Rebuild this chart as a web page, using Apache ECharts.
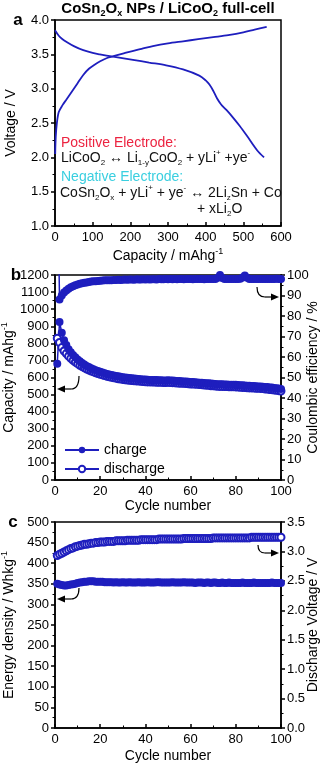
<!DOCTYPE html>
<html>
<head>
<meta charset="utf-8">
<script src="https://cdn.jsdelivr.net/npm/echarts@6/dist/echarts.min.js"></script>
<style>
  html,body{margin:0;padding:0;background:#fff;}
  #chart{width:328px;height:768px;}
</style>
</head>
<body>
<div id="chart"></div>
<script>
// panel a: voltage profile [capacity, voltage]
const chargeCurve = [
  [0.5, 2.05], [2, 2.3], [5, 2.5], [10, 2.66], [20, 2.76], [30, 2.84], [40, 2.92], [50, 3.0],
  [60, 3.08], [75, 3.2], [90, 3.29], [105, 3.35], [120, 3.4], [140, 3.45], [160, 3.48],
  [180, 3.51], [200, 3.54], [230, 3.58], [260, 3.62], [300, 3.66], [340, 3.69], [380, 3.72],
  [420, 3.75], [460, 3.78], [500, 3.82], [530, 3.86], [562, 3.9]
]
const dischargeCurve = [
  [0, 3.85], [10, 3.77], [20, 3.72], [31, 3.68], [50, 3.62], [75, 3.56], [100, 3.52],
  [119, 3.5], [150, 3.47], [207, 3.42], [250, 3.38], [295, 3.34], [340, 3.28], [383, 3.19],
  [400, 3.12], [410, 3.06], [420, 2.97], [430, 2.86], [441, 2.77], [455, 2.69], [471, 2.59],
  [490, 2.46], [510, 2.31], [537, 2.1], [555, 2.0]
]

// panel b: cycling, cycles 1..100
const chargeCap = [
  680, 925, 862, 818, 790, 766, 748, 732, 718, 706,
  695, 685, 676, 668, 661, 654, 648, 643, 638, 633,
  629, 625, 621, 618, 615, 612, 609, 607, 604, 602,
  600, 598, 597, 595, 594, 593, 591, 590, 589, 588,
  587, 586, 586, 585, 585, 584, 584, 583, 583, 584,
  583, 582, 581, 580, 579, 578, 577, 576, 575, 574,
  573, 572, 571, 570, 569, 568, 567, 566, 565, 563,
  562, 561, 560, 560, 559, 559, 558, 558, 557, 557,
  556, 555, 554, 553, 552, 551, 550, 550, 549, 548,
  547, 546, 545, 544, 542, 541, 539, 537, 535, 533
]
const dischargeCap = [
  830, 805, 775, 755, 740, 725, 712, 700, 690, 681,
  672, 664, 657, 650, 644, 638, 633, 628, 623, 619,
  615, 611, 607, 604, 601, 598, 596, 593, 591, 589,
  587, 585, 584, 582, 581, 580, 579, 578, 576, 575,
  574, 574, 573, 573, 572, 572, 572, 571, 571, 572,
  571, 570, 569, 568, 567, 566, 566, 565, 563, 562,
  562, 561, 560, 559, 558, 556, 555, 554, 552, 551,
  550, 549, 548, 548, 547, 547, 546, 546, 546, 545,
  544, 543, 542, 541, 540, 539, 539, 538, 537, 537,
  536, 535, 533, 532, 530, 529, 527, 525, 523, 521
]
const coulombic = [
  160, 88, 90, 91.5, 92.5, 93.3, 94, 94.5, 95, 95.4,
  95.7, 96, 96.2, 96.4, 96.6, 96.8, 96.9, 97, 97.1, 97.2,
  97.3, 97.4, 97.4, 97.5, 97.5, 97.6, 97.6, 97.7, 97.6, 97.7,
  97.8, 97.7, 97.8, 97.8, 97.7, 97.9, 97.8, 97.8, 97.9, 97.8,
  97.9, 97.8, 97.9, 97.9, 97.8, 98, 97.9, 97.9, 98, 97.9,
  98, 97.9, 98, 97.9, 98, 98, 97.9, 98, 98.1, 98,
  97.9, 98, 98.1, 98, 98, 97.9, 98, 98.1, 98, 98,
  98.1, 98.6, 100, 98.5, 98, 98.1, 98, 98, 98.1, 98,
  98, 98.2, 98.8, 99.8, 98.6, 98.1, 98, 98.1, 98, 98.1,
  98, 98.1, 98.1, 98, 98.1, 98.1, 98, 98.2, 98.1, 98.1
]

// panel c
const energyDensity = [
  350, 348, 347, 346, 346, 347, 348, 349, 350, 352,
  353, 354, 355, 355, 356, 356, 356, 355, 355, 355,
  355, 354, 354, 354, 354, 353, 354, 353, 353, 354,
  353, 353, 354, 353, 353, 353, 354, 353, 353, 353,
  354, 353, 353, 353, 354, 354, 353, 353, 353, 353,
  353, 354, 353, 353, 353, 353, 354, 353, 353, 353,
  353, 352, 353, 353, 353, 352, 353, 353, 352, 353,
  353, 352, 352, 353, 352, 352, 353, 352, 352, 352,
  352, 352, 353, 352, 352, 352, 352, 353, 352, 352,
  352, 352, 352, 352, 352, 353, 352, 352, 352, 352
]
const dischargeVolt = [
  2.93, 2.95, 2.97, 2.99, 3.01, 3.03, 3.05, 3.06, 3.08, 3.09,
  3.10, 3.11, 3.12, 3.12, 3.13, 3.14, 3.14, 3.15, 3.15, 3.16,
  3.16, 3.16, 3.17, 3.17, 3.17, 3.17, 3.18, 3.18, 3.18, 3.18,
  3.18, 3.19, 3.19, 3.19, 3.19, 3.19, 3.19, 3.20, 3.20, 3.20,
  3.20, 3.20, 3.20, 3.20, 3.20, 3.21, 3.21, 3.21, 3.21, 3.21,
  3.21, 3.21, 3.21, 3.21, 3.21, 3.21, 3.22, 3.22, 3.22, 3.22,
  3.22, 3.22, 3.22, 3.22, 3.22, 3.22, 3.22, 3.22, 3.22, 3.23,
  3.23, 3.23, 3.23, 3.23, 3.23, 3.23, 3.23, 3.23, 3.23, 3.23,
  3.23, 3.23, 3.23, 3.23, 3.23, 3.23, 3.24, 3.24, 3.24, 3.24,
  3.24, 3.24, 3.24, 3.24, 3.24, 3.24, 3.24, 3.24, 3.24, 3.24
]

const blue = '#1e1ebe'
const font = '"Liberation Sans", Arial, sans-serif'

// cycle number is the position in the list (1-based)
function byCycle(arr) {
  return arr.map((v, i) => [i + 1, v])
}

const nameRich = {
  n: {fontSize: 14, fontFamily: font, color: '#000', lineHeight: 18},
  p: {fontSize: 9, fontFamily: font, color: '#000', verticalAlign: 'top', lineHeight: 9}
}

function axis(o) {
  return Object.assign({
    type: 'value',
    nameLocation: 'middle',
    nameMoveOverlap: false,
    nameTextStyle: {fontSize: 14, fontFamily: font, color: '#000', rich: nameRich},
    axisLine: {show: true, onZero: false, lineStyle: {color: '#000', width: 1.5}},
    axisTick: {show: true, inside: false, length: 4, lineStyle: {color: '#000', width: 1.5}},
    minorTick: {show: true, splitNumber: 2, length: 2.5, lineStyle: {color: '#000', width: 1}},
    splitLine: {show: false},
    axisLabel: {color: '#000', fontSize: 13, fontFamily: font, margin: 6, formatter: v => String(v)}
  }, o)
}

function xAx(gridIndex, min, max, interval, name, nameGap) {
  const a = axis({gridIndex, min, max, interval, name, nameGap})
  a.axisTick = Object.assign({}, a.axisTick, {inside: true})
  a.minorTick = Object.assign({}, a.minorTick, {inside: true})
  a.axisLabel = Object.assign({}, a.axisLabel, {margin: 5})
  return a
}

function arrow(x0, y0, x1, y1, dir) {
  // curved tail then straight to arrow head
  const tip = dir < 0 ? x1 - 14 : x1 + 14
  const base = dir < 0 ? tip + 8 : tip - 8
  return [
    {type: 'bezierCurve', shape: {x1: x0, y1: y0, x2: x1, y2: y1, cpx1: x0, cpy1: y1},
      style: {stroke: '#000', lineWidth: 1.2, fill: null}},
    {type: 'line', shape: {x1: x1, y1: y1, x2: base, y2: y1}, style: {stroke: '#000', lineWidth: 1.2}},
    {type: 'polygon', shape: {points: [[tip, y1], [base, y1 - 3.5], [base, y1 + 3.5]]}, style: {fill: '#000'}}
  ]
}

const txtRich = {
  n: {fontSize: 14, fontFamily: font, fill: '#111', color: '#111', lineHeight: 18},
  s: {fontSize: 8, fontFamily: font, fill: '#111', color: '#111', verticalAlign: 'bottom', lineHeight: 8},
  p: {fontSize: 8, fontFamily: font, fill: '#111', color: '#111', verticalAlign: 'top', lineHeight: 8},
  r: {fontSize: 14, fontFamily: font, fill: '#ec2340', color: '#ec2340', lineHeight: 18},
  c: {fontSize: 14, fontFamily: font, fill: '#3acfe0', color: '#3acfe0', lineHeight: 18},
  b: {fontSize: 15, fontFamily: font, fontWeight: 'bold', fill: '#000', color: '#000', lineHeight: 18},
  bs: {fontSize: 9, fontFamily: font, fontWeight: 'bold', fill: '#000', color: '#000', verticalAlign: 'bottom', lineHeight: 9}
}

function label(x, y, text, align) {
  return {type: 'text', x: x, y: y,
    style: {text: text, rich: txtRich, align: align || 'left', verticalAlign: 'middle',
      textAlign: align || 'left', textVerticalAlign: 'middle'}}
}

function letter(x, y, t) {
  return {type: 'text', x: x, y: y,
    style: {text: t, font: 'bold 17px ' + font, fill: '#000', textAlign: 'center', textVerticalAlign: 'middle',
      align: 'center', verticalAlign: 'middle'}}
}

const frame = {show: true, borderColor: '#000', borderWidth: 1.5, backgroundColor: 'transparent', outerBoundsMode: 'none'}

const option = {
  animation: false,
  backgroundColor: '#fff',
  grid: [
    Object.assign({left: 55, right: 47, top: 20, height: 206}, frame),
    Object.assign({left: 55, right: 47, top: 275, height: 205}, frame),
    Object.assign({left: 55, right: 47, top: 522, height: 206}, frame)
  ],
  xAxis: [
    xAx(0, 0, 600, 100, '{n|Capacity / mAhg}{p|-1}', 21),
    xAx(1, 0, 100, 20, 'Cycle number', 19),
    xAx(2, 0, 100, 20, 'Cycle number', 21)
  ],
  yAxis: [
    axis({gridIndex: 0, min: 1, max: 4, interval: 0.5, name: 'Voltage / V', nameGap: 37,
      axisLabel: {color: '#000', fontSize: 13, fontFamily: font, margin: 6, formatter: v => v.toFixed(1)}}),
    axis({gridIndex: 1, min: 0, max: 1200, interval: 100, name: '{n|Capacity / mAhg}{p|-1}', nameGap: 37}),
    axis({gridIndex: 1, position: 'right', min: 0, max: 100, interval: 10, name: 'Coulombic efficiency / %', nameGap: 25}),
    axis({gridIndex: 2, min: 0, max: 500, interval: 50, name: '{n|Energy density / Whkg}{p|-1}', nameGap: 37}),
    axis({gridIndex: 2, position: 'right', min: 0, max: 3.5, interval: 0.5, name: 'Discharge Voltage / V', nameGap: 25,
      axisLabel: {color: '#000', fontSize: 13, fontFamily: font, margin: 6, formatter: v => v.toFixed(1)}})
  ],
  legend: {
    data: ['charge', 'discharge'],
    orient: 'vertical', left: 59, top: 438,
    itemWidth: 34, itemHeight: 8, itemGap: 5,
    textStyle: {fontSize: 14, fontFamily: font, color: '#000'}
  },
  series: [
    {type: 'line', xAxisIndex: 0, yAxisIndex: 0, data: chargeCurve, smooth: 0.3, showSymbol: false,
      lineStyle: {color: blue, width: 1.8}, itemStyle: {color: blue}},
    {type: 'line', xAxisIndex: 0, yAxisIndex: 0, data: dischargeCurve, smooth: 0.3, showSymbol: false,
      lineStyle: {color: blue, width: 1.8}, itemStyle: {color: blue}},

    {name: 'discharge', type: 'line', xAxisIndex: 1, yAxisIndex: 1, data: byCycle(dischargeCap),
      symbol: 'emptyCircle', symbolSize: 7, lineStyle: {color: blue, width: 1.5},
      itemStyle: {color: blue, borderWidth: 1.8}},
    {name: 'charge', type: 'line', xAxisIndex: 1, yAxisIndex: 1, data: byCycle(chargeCap),
      symbol: 'circle', symbolSize: 8, lineStyle: {color: blue, width: 1.5}, itemStyle: {color: blue}},
    {type: 'line', xAxisIndex: 1, yAxisIndex: 2, data: byCycle(coulombic), clip: true,
      symbol: 'circle', symbolSize: 8, lineStyle: {color: blue, width: 1.5}, itemStyle: {color: blue}},

    {type: 'line', xAxisIndex: 2, yAxisIndex: 3, data: byCycle(energyDensity),
      symbol: 'circle', symbolSize: 8, lineStyle: {color: blue, width: 1.5}, itemStyle: {color: blue}},
    {type: 'line', xAxisIndex: 2, yAxisIndex: 4, data: byCycle(dischargeVolt),
      symbol: 'emptyCircle', symbolSize: 7, lineStyle: {color: blue, width: 1.5},
      itemStyle: {color: blue, borderWidth: 1.8}}
  ],
  graphic: [
    label(168, 9, '{b|CoSn}{bs|2}{b|O}{bs|x}{b| NPs / LiCoO}{bs|2}{b| full-cell}', 'center'),
    letter(18, 20, 'a'),
    letter(16, 275, 'b'),
    letter(13, 522, 'c'),
    label(61, 143, '{r|Positive Electrode:}'),
    label(61, 158, '{n|LiCoO}{s|2}{n| \u2194 Li}{s|1-y}{n|CoO}{s|2}{n| + yLi}{p|+}{n| +ye}{p|-}'),
    label(61, 177, '{c|Negative Electrode:}'),
    label(60, 193, '{n|CoSn}{s|2}{n|O}{s|x}{n| + yLi}{p|+}{n| + ye}{p|-}{n| \u2194 2Li}{s|z}{n|Sn + Co}'),
    label(197, 209, '{n|+ xLi}{s|2}{n|O}'),
    ...arrow(79, 376, 71, 389, -1),
    ...arrow(257, 287, 265, 297, 1),
    ...arrow(79, 588, 71, 599, -1),
    ...arrow(258, 545, 265, 553, 1)
  ]
}

const myChart = echarts.init(document.getElementById('chart'))
myChart.setOption(option)
</script>
</body>
</html>
